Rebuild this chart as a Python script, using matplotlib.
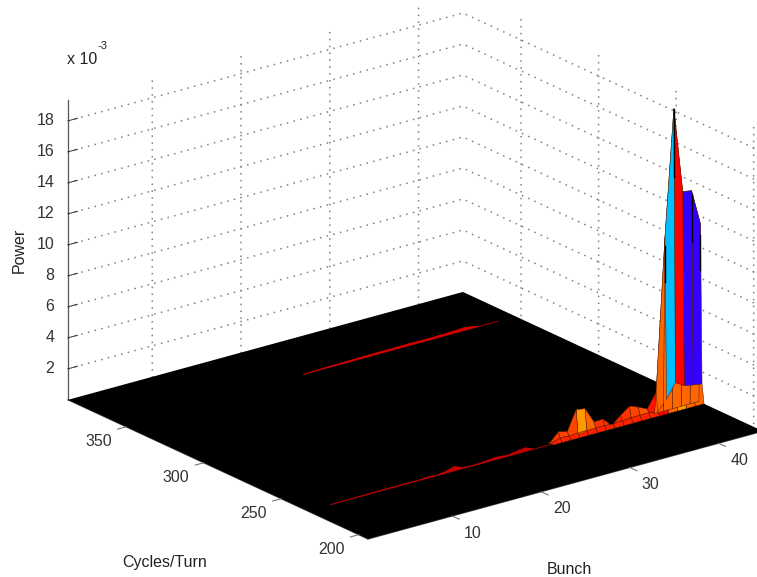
import numpy as np
import matplotlib
matplotlib.use("Agg")
import matplotlib.pyplot as plt
from matplotlib.colors import to_rgba
from mpl_toolkits.mplot3d import proj3d

plt.rcParams['font.family'] = ['Liberation Sans', 'DejaVu Sans']

# ---- data (power in units of 1e-3) ----
bunch_limits = [0.5, 45.0]
cycles_limits = [194.0, 387.5]
power_limits = [0.0, 19.35]
bunch_ticks = [10, 20, 30, 40]
cycles_ticks = [200, 250, 300, 350]
power_ticks = [2, 4, 6, 8, 10, 12, 14, 16, 18]

main_bunch = [28, 29, 30, 31, 32, 33, 34, 35, 36, 37, 38, 39, 40, 41, 42, 43, 44, 45]
main_cycles = [232.0, 233.3, 234.3, 235.3]
main_shoulder = [0.0, 0.25, 0.2, 0.25, 0.25, 0.25, 0.25, 0.2, 0.25, 0.3, 0.3, 0.3, 0.2, 0.86, 1.78, 1.42, 1.31, 1.23]
main_peak = [0.0, 0.59, 0.44, 1.71, 1.61, 0.60, 0.62, 0.05, 0.55, 0.99, 0.77, 0.49, 1.4, 11.3, 19.4, 13.9, 13.8, 11.5]
peak_colors = ['#ff3300', '#ff4400', '#ff4400', '#ff9900', '#ff6600', '#ff3300', '#ff3300', '#ff2200', '#ff3300',
               '#ff4400', '#ff5500', '#ff1100', '#ff6600', '#00bfff', '#ff0000', '#3300ff', '#3300ff']
shoulder_colors = ['#ff2200'] * 12 + ['#ff0000', '#ff6600', '#ff9900', '#ff6600', '#ff6600']

# stretches of the spike's mesh edges that show up dark: bunch, power from, power to
dark_edge_bunch = [42, 41, 44, 45]
dark_edge_from = [19.4, 10.7, 13.6, 10.8]
dark_edge_to = [15.0, 8.4, 10.5, 8.5]

front_bunch = [3, 5, 7, 9, 11, 13, 14, 15, 16, 17, 18, 19, 20, 21, 22, 23, 24, 25, 26, 27, 28]
front_power = [0.03, 0.04, 0.05, 0.06, 0.06, 0.05, 0.09, 0.05, 0.12, 0.30, 0.08, 0.05, 0.07, 0.12, 0.16, 0.08, 0.18, 0.26, 0.02, 0.03, 0.0]
front_cycles = [232.6, 233.0, 233.4]

back_bunch = [21, 23, 25, 27, 29, 31, 33, 35, 37, 38, 39, 40, 41, 42, 43]
back_power = [0.03, 0.06, 0.08, 0.10, 0.12, 0.12, 0.14, 0.12, 0.14, 0.16, 0.20, 0.14, 0.01, 0.01, 0.01]
back_cycles = [353.1, 353.5, 353.9]

# ---- figure ----
W, H = 757, 577
fig = plt.figure(figsize=(W / 100, H / 100), dpi=100)
S = 500.0
ax = fig.add_axes([0.1, 0.1, S / W, S / H], projection='3d')
ax.set_proj_type('ortho')
ax.view_init(elev=20.85, azim=-127.5)
ax.set_box_aspect((498, 493, 321))
ax.set_xlim(*bunch_limits, view_margin=0)
ax.set_ylim(*cycles_limits, view_margin=0)
ax.set_zlim(*power_limits, view_margin=0)
ax.computed_zorder = False


def corners():
    xs = [bunch_limits[0], bunch_limits[1], bunch_limits[0]]
    ys = [cycles_limits[0], cycles_limits[0], cycles_limits[1]]
    zs = [0, 0, 0]
    px, py, _ = proj3d.proj_transform(np.array(xs), np.array(ys), np.array(zs), ax.get_proj())
    return ax.transData.transform(np.c_[px, py])


# place the box so that its floor corners land where they do in the reference
c = corners()
span = c[1, 0] - c[2, 0]
S *= (763.0 - 68.0) / span
ax.set_position([0.1, 0.1, S / W, S / H])
c = corners()
dx, dy = 368.0 - c[0, 0], (H - 539.0) - c[0, 1]
ax.set_position([0.1 + dx / W, 0.1 + dy / H, S / W, S / H])

# axes styling
for axis in (ax.xaxis, ax.yaxis, ax.zaxis):
    axis.set_pane_color((1, 1, 1, 0))
    axis.pane.set_edgecolor((1, 1, 1, 0))
    axis._axinfo['grid'].update(color='#808080', linewidth=1.1, linestyle=(0, (1, 3.5)))
    axis._axinfo['tick']['inward_factor'] = 0.0
    axis._axinfo['tick']['outward_factor'] = 0.045
    axis._axinfo['tick']['linewidth'] = {True: 0.7, False: 0.7}
    axis.line.set_color('#555555')
    axis.line.set_linewidth(0.9)
ax.zaxis._axinfo['tick']['outward_factor'] = 0.3
ax.zaxis.set_ticks_position('upper')
ax.set_xticks(bunch_ticks)
ax.set_yticks(cycles_ticks)
ax.set_zticks(power_ticks)
ax.tick_params(axis='both', labelsize=11.5, colors='#333333')
ax.tick_params(axis='x', pad=3)
ax.tick_params(axis='y', pad=2)
ax.tick_params(axis='z', pad=-2.5)
ax.set_xticklabels([str(v) for v in bunch_ticks])
ax.set_yticklabels([str(v) for v in cycles_ticks])
ax.set_zticklabels([str(v) for v in power_ticks])
plt.setp(ax.get_xticklabels(), ha='left', va='center')
plt.setp(ax.get_yticklabels(), ha='right', va='center')
plt.setp(ax.get_zticklabels(), ha='right', va='center')

# floor
fx, fy = np.meshgrid(bunch_limits, cycles_limits)
ax.plot_surface(fx, fy, np.zeros_like(fx), color='black', shade=False, linewidth=0, zorder=1)

# visible tick marks along the two floor edges
for b in bunch_ticks:
    ax.plot([b, b], [cycles_limits[0], cycles_limits[0] - 4.5], [0, 0], color='#777777', lw=0.8, zorder=3)
for cy in cycles_ticks:
    ax.plot([bunch_limits[0], bunch_limits[0] - 0.95], [cy, cy], [0, 0], color='#777777', lw=0.8, zorder=3)


def ridge(bunch, cycles, z_rows, face_colors, edge, lw, zorder):
    X, Y = np.meshgrid(bunch, cycles)
    Z = np.array(z_rows)
    fc = np.zeros(Z.shape + (4,))
    for r, row in enumerate(face_colors):
        for k, col in enumerate(row):
            fc[r, k] = to_rgba(col)
    s = ax.plot_surface(X, Y, Z, facecolors=fc, rstride=1, cstride=1, shade=False, linewidth=lw, zorder=zorder)
    s.set_edgecolor(edge)
    return s


zero = [0.0] * len(main_bunch)
ridge(main_bunch, main_cycles, [zero, main_shoulder, main_peak, zero],
      [shoulder_colors + ['k'], peak_colors + ['k'], ['#ff6600'] * 18, ['k'] * 18], '#4a1a00', 0.35, 4)
for b, z0, z1 in zip(dark_edge_bunch, dark_edge_from, dark_edge_to):
    ax.plot([b, b], [main_cycles[2]] * 2, [z0, z1], color='black', lw=1.0, zorder=5)

fz = [0.0] * len(front_bunch)
ridge(front_bunch, front_cycles, [fz, front_power, fz],
      [['#c00000'] * len(front_bunch)] * 3, 'none', 0, 2)
bz = [0.0] * len(back_bunch)
ridge(back_bunch, back_cycles, [bz, back_power, bz],
      [['#d00000'] * len(back_bunch)] * 3, 'none', 0, 2)

# labels
tc = '#222222'
fig.text(165 / W, 1 - 562 / H, 'Cycles/Turn', fontsize=11.5, color=tc, ha='center', va='center')
fig.text(569 / W, 1 - 569 / H, 'Bunch', fontsize=11.5, color=tc, ha='center', va='center')
fig.text(19 / W, 1 - 250 / H, 'Power', fontsize=11.5, color=tc, ha='center', va='center', rotation=90)
fig.text(67 / W, 1 - 59 / H, 'x 10', fontsize=11.5, color=tc, ha='left', va='center')
fig.text(97 / W, 1 - 46 / H, '-3', fontsize=8, color=tc, ha='left', va='center')

fig.savefig('out.png', dpi=100)
